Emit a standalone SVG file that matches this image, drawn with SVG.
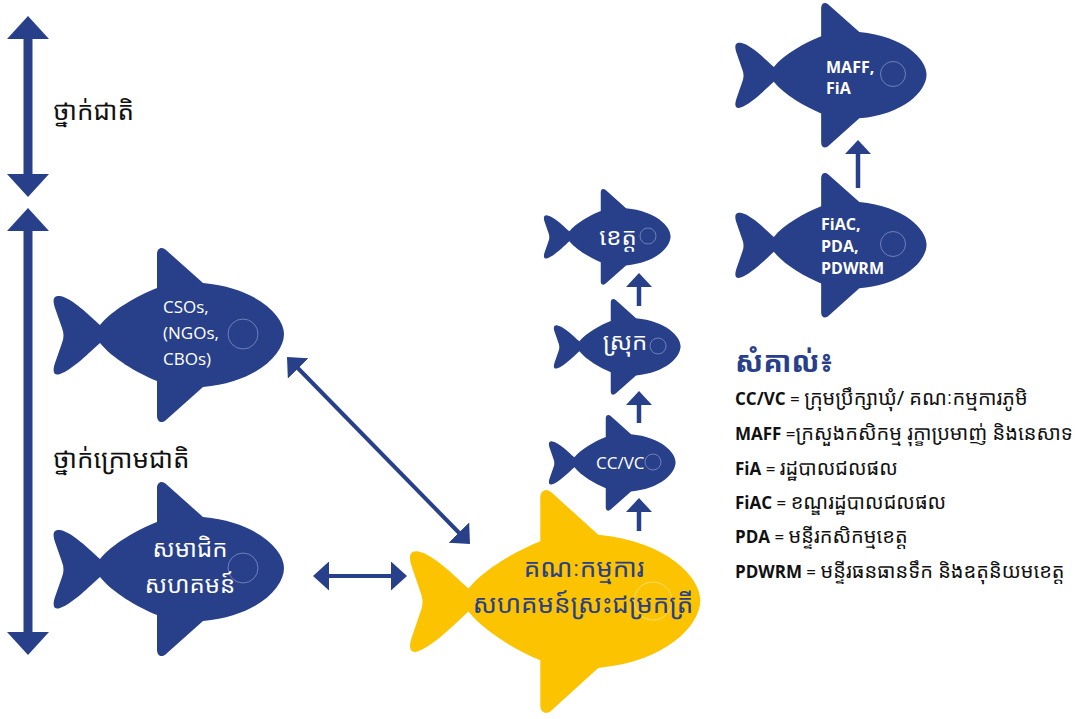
<svg xmlns="http://www.w3.org/2000/svg" xmlns:xlink="http://www.w3.org/1999/xlink" width="1086" height="719" viewBox="0 0 1086 719">
<style>
.navy{fill:#283f8a}
.yellow{fill:#fcc300}
.eye{fill:none;stroke:#8c9ccc;stroke-width:0.7}
.eyey{fill:none;stroke:#fde7a0;stroke-width:0.7}
.lbl{font-family:"Open Sans","Noto Sans",sans-serif;fill:#ffffff}
.kh{font-family:"Noto Sans Khmer","Khmer OS","Noto Sans",sans-serif}
.wk{fill:#ffffff}
.side{font-family:"Noto Sans Khmer","Khmer OS","Noto Sans",sans-serif;font-size:26px;fill:#111111}
.leg{font-family:"Noto Sans Khmer","Open Sans","Noto Sans",sans-serif;font-size:20px;fill:#111111}
.leg tspan.b{font-family:"Open Sans","Noto Sans",sans-serif;font-weight:bold;font-size:17px}
.leg tspan.e{font-family:"Open Sans","Noto Sans",sans-serif;font-size:17px}
.big{stroke:#283f8a;stroke-width:9;fill:none}
.mid{stroke:#283f8a;stroke-width:4;fill:none}
.sm{stroke:#283f8a;stroke-width:4.5;fill:none}
</style>
<defs>
<path id="fish" d="M48,77 C38,68 20,50 8,48 C0,47 1,54 3,60 L10,80 C12,85 12,90 10,95 L3,115 C0,124 2,128 8,126 C20,122 38,104 48,95 C60,110 85,125 105,133 L105,168 C105,174 110,176 114,172 L151,139 C205,134 232,106 232,86 C232,68 205,40 151,35 L114,2 C110,-2 105,0 105,6 L105,40 C85,48 60,62 48,77 Z"/>
<marker id="hBig" markerUnits="userSpaceOnUse" markerWidth="23" markerHeight="42" viewBox="0 0 23 42" refX="3" refY="21" orient="auto-start-reverse"><path d="M0,0 L23,21 L0,42 Z" fill="#283f8a"/></marker>
<marker id="hMid" markerUnits="userSpaceOnUse" markerWidth="16" markerHeight="29" viewBox="0 0 16 29" refX="2" refY="14.5" orient="auto-start-reverse"><path d="M0,0 L16,14.5 L0,29 Z" fill="#283f8a"/></marker>
<marker id="hSm" markerUnits="userSpaceOnUse" markerWidth="14" markerHeight="26" viewBox="0 0 14 26" refX="2" refY="13" orient="auto"><path d="M0,0 L14,13 L0,26 Z" fill="#283f8a"/></marker>
</defs>
<rect width="1086" height="719" fill="#ffffff"/>

<g id="connectors">
<line class="big" x1="28" y1="36" x2="28" y2="177" marker-start="url(#hBig)" marker-end="url(#hBig)"/>
<line class="big" x1="28" y1="228" x2="28" y2="635" marker-start="url(#hBig)" marker-end="url(#hBig)"/>
<line class="mid" x1="296.8" y1="367" x2="460.2" y2="534" marker-start="url(#hMid)" marker-end="url(#hMid)"/>
<line class="mid" x1="327" y1="576" x2="393" y2="576" marker-start="url(#hMid)" marker-end="url(#hMid)"/>
<line class="sm" x1="858" y1="188" x2="858" y2="152" marker-end="url(#hSm)"/>
<line class="sm" x1="639" y1="306" x2="639" y2="285" marker-end="url(#hSm)"/>
<line class="sm" x1="639" y1="423" x2="639" y2="403" marker-end="url(#hSm)"/>
<line class="sm" x1="639" y1="531" x2="639" y2="510" marker-end="url(#hSm)"/>
</g>

<g id="level-labels">
<text class="side" x="53" y="120">ថ្នាក់ជាតិ</text>
<text class="side" x="53" y="468">ថ្នាក់ក្រោមជាតិ</text>
</g>

<g id="node-maff">
<use xlink:href="#fish" class="navy" transform="translate(734,3) scale(0.83)"/>
<circle class="eye" cx="893" cy="74" r="12.5"/>
<text class="lbl" font-weight="bold" font-size="16"><tspan x="826" y="73">MAFF,</tspan><tspan x="826" y="94">FiA</tspan></text>
</g>

<g id="node-fiac">
<use xlink:href="#fish" class="navy" transform="translate(734,173) scale(0.83)"/>
<circle class="eye" cx="893" cy="244" r="12.5"/>
<text class="lbl" font-weight="bold" font-size="16"><tspan x="821" y="230">FiAC,</tspan><tspan x="821" y="252">PDA,</tspan><tspan x="821" y="274">PDWRM</tspan></text>
</g>

<g id="node-csos">
<use xlink:href="#fish" class="navy" transform="translate(52,248)"/>
<circle class="eye" cx="243" cy="334" r="15"/>
<text class="lbl" font-size="17"><tspan x="163" y="313">CSOs,</tspan><tspan x="163" y="339">(NGOs,</tspan><tspan x="163" y="365">CBOs)</tspan></text>
</g>

<g id="node-members">
<use xlink:href="#fish" class="navy" transform="translate(52,482)"/>
<circle class="eye" cx="243" cy="568" r="15"/>
<text class="kh wk" font-size="24" text-anchor="middle"><tspan x="190" y="557">សមាជិក</tspan><tspan x="190" y="593">សហគមន៍</tspan></text>
</g>

<g id="node-committee">
<use xlink:href="#fish" class="yellow" transform="translate(408,490) scale(1.26,1.28)"/>
<circle class="eyey" cx="653" cy="601" r="19"/>
<text class="kh" font-size="26" fill="#283f8a" text-anchor="middle"><tspan x="584" y="577">គណៈកម្មការ</tspan><tspan x="583" y="613">សហគមន៍ស្រះជម្រកត្រី</tspan></text>
</g>

<g id="node-ccvc">
<use xlink:href="#fish" class="navy" transform="translate(548,415) scale(0.55)"/>
<circle class="eye" cx="653" cy="462" r="8"/>
<text class="lbl" font-size="17" x="596" y="469">CC/VC</text>
</g>

<g id="node-district">
<use xlink:href="#fish" class="navy" transform="translate(553,299) scale(0.55)"/>
<circle class="eye" cx="658" cy="346" r="8"/>
<text class="kh wk" font-size="24" text-anchor="middle" x="625" y="350">ស្រុក</text>
</g>

<g id="node-province">
<use xlink:href="#fish" class="navy" transform="translate(543,189) scale(0.55)"/>
<circle class="eye" cx="648" cy="236" r="8"/>
<text class="kh wk" font-size="24" text-anchor="middle" x="618" y="245">ខេត្ត</text>
</g>

<g id="legend">
<text class="kh" font-size="29" font-weight="bold" fill="#283f8a" x="735" y="372">សំគាល់៖</text>
<text class="leg" x="735" y="405"><tspan class="b">CC/VC</tspan><tspan class="e"> = </tspan>ក្រុមប្រឹក្សាឃុំ/ គណៈកម្មការភូមិ</text>
<text class="leg" x="735" y="440"><tspan class="b">MAFF</tspan><tspan class="e"> =</tspan>ក្រសួងកសិកម្ម រុក្ខាប្រមាញ់ និងនេសាទ</text>
<text class="leg" x="735" y="475"><tspan class="b">FiA</tspan><tspan class="e"> = </tspan>រដ្ឋបាលជលផល</text>
<text class="leg" x="735" y="509"><tspan class="b">FiAC</tspan><tspan class="e"> = </tspan>ខណ្ឌរដ្ឋបាលជលផល</text>
<text class="leg" x="735" y="543"><tspan class="b">PDA</tspan><tspan class="e"> = </tspan>មន្ទីរកសិកម្មខេត្ត</text>
<text class="leg" x="735" y="578"><tspan class="b">PDWRM</tspan><tspan class="e"> = </tspan>មន្ទីរធនធានទឹក និងឧតុនិយមខេត្ត</text>
</g>
</svg>
